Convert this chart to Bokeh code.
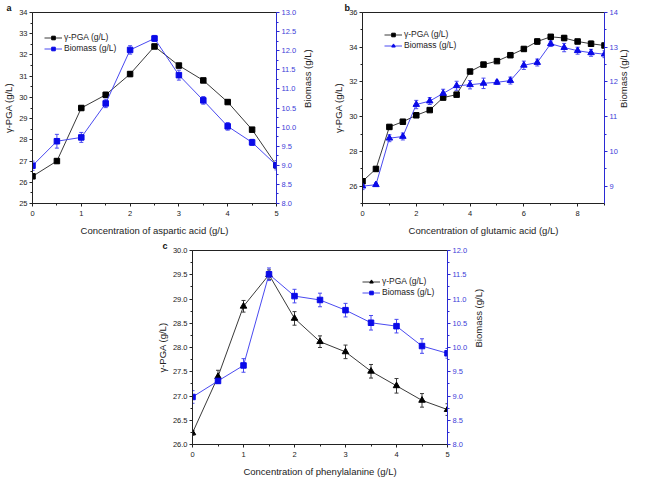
import math
from bokeh.plotting import figure
from bokeh.models import (Range1d, LinearAxis, FixedTicker, PrintfTickFormatter,
                          Whisker, ColumnDataSource, Legend, LegendItem,
                          TeeHead, Spacer)
from bokeh.core.properties import value
from bokeh.layouts import row, column
from bokeh.embed import file_html
from bokeh.resources import INLINE

FONT = "Liberation Sans"
BLACK_LINE = "#3a3a3a"
BLACK_MK = "#000000"
BLUE_LINE = "#4a4af0"
BLUE_MK = "#0a0ae8"
BLUE_AX = "#2a2ad4"
BLUE_TXT = "#4040d8"

# ---------------- Panel a: aspartic acid ----------------
a_conc = [0, 0.5, 1, 1.5, 2, 2.5, 3, 3.5, 4, 4.5, 5]
a_pga = [26.28, 27.0, 29.5, 30.12, 31.1, 32.4, 31.5, 30.8, 29.78, 28.48, 26.8]
a_pga_err = [0.10, 0.10, 0.10, 0.12, 0.12, 0.10, 0.10, 0.08, 0.10, 0.10, 0.10]
a_bio = [8.99, 9.63, 9.73, 10.62, 12.02, 12.32, 11.36, 10.70, 10.02, 9.60, 9.0]
a_bio_err = [0.12, 0.18, 0.13, 0.11, 0.11, 0.08, 0.13, 0.10, 0.10, 0.08, 0.12]

# ---------------- Panel b: glutamic acid ----------------
b_conc = [0, 0.5, 1, 1.5, 2, 2.5, 3, 3.5, 4, 4.5, 5, 5.5, 6, 6.5, 7, 7.5, 8, 8.5, 9]
b_pga = [26.28, 26.99, 29.41, 29.71, 30.08, 30.38, 31.1, 31.27, 32.6, 33.0,
         33.2, 33.54, 33.9, 34.33, 34.6, 34.53, 34.33, 34.2, 34.1]
b_pga_err = [0.15, 0.12, 0.12, 0.10, 0.12, 0.10, 0.12, 0.10, 0.10, 0.12,
             0.10, 0.12, 0.12, 0.15, 0.12, 0.15, 0.12, 0.15, 0.12]
b_bio = [9.0, 9.04, 10.38, 10.43, 11.35, 11.45, 11.67, 11.89, 11.92, 11.96,
         11.99, 12.04, 12.48, 12.56, 13.1, 12.99, 12.9, 12.84, 12.8]
b_bio_err = [0.10, 0.05, 0.10, 0.10, 0.12, 0.10, 0.12, 0.13, 0.12, 0.15,
             0.06, 0.10, 0.12, 0.10, 0.08, 0.12, 0.10, 0.10, 0.10]

# ---------------- Panel c: phenylalanine ----------------
c_conc = [0, 0.5, 1, 1.5, 2, 2.5, 3, 3.5, 4, 4.5, 5]
c_pga = [26.24, 27.4, 28.85, 29.5, 28.6, 28.12, 27.91, 27.51, 27.21, 26.91, 26.72]
c_pga_err = [0.05, 0.13, 0.12, 0.10, 0.14, 0.12, 0.14, 0.14, 0.15, 0.14, 0.12]
c_bio = [8.98, 9.31, 9.63, 11.51, 11.06, 10.98, 10.77, 10.51, 10.44, 10.03, 9.88]
c_bio_err = [0.13, 0.05, 0.14, 0.13, 0.14, 0.14, 0.14, 0.15, 0.14, 0.15, 0.10]

PGA_LABEL = "γ-PGA (g/L)"
BIO_LABEL = "Biomass (g/L)"


def style_axis(ax, color, label_color, fmt=None, tick_standoff=2, label_standoff=2):
    ax.axis_line_color = color
    ax.major_tick_line_color = color
    ax.minor_tick_line_color = color
    ax.major_label_text_color = label_color
    ax.major_label_text_font = FONT
    ax.major_label_text_font_size = "7.5px"
    ax.axis_label_text_font = FONT
    ax.axis_label_text_font_size = "9.5px"
    ax.axis_label_text_font_style = "normal"
    ax.axis_label_text_color = "#222222"
    ax.major_tick_in = 0
    ax.major_tick_out = 3
    ax.minor_tick_in = 0
    ax.minor_tick_out = 2
    ax.major_label_standoff = tick_standoff
    ax.axis_label_standoff = label_standoff
    if fmt:
        ax.formatter = PrintfTickFormatter(format=fmt)


def panel(conc, pga, pga_err, bio, bio_err, x_end, yl, yr, xt, xm, lt, lm, rt, rm,
          lfmt, rfmt, xlabel, letter, pga_mk, bio_mk, width, height, borders,
          leg_xy, rlab_standoff, letter_offset):
    bl, br, bt, bb = borders
    fh = height - bt - bb
    p = figure(width=width, height=height, x_range=Range1d(0, x_end),
               y_range=Range1d(*yl), output_backend="svg", toolbar_location=None,
               min_border_left=bl, min_border_right=br, min_border_top=bt,
               min_border_bottom=bb)
    # panel letter as a left-aligned title pulled over the left margin
    p.title.text = letter
    p.title.align = "left"
    p.title.offset = letter_offset
    p.title.standoff = 0
    p.title.text_font = FONT
    p.title.text_font_size = "9px"
    p.title.text_font_style = "bold"
    p.title.text_color = "#111111"

    p.extra_y_ranges = {"bio": Range1d(*yr)}
    p.xgrid.visible = False
    p.ygrid.visible = False
    p.outline_line_color = "#222222"
    p.outline_line_width = 1
    p.background_fill_color = "white"
    p.border_fill_color = "white"

    p.xaxis.ticker = FixedTicker(ticks=xt, minor_ticks=xm)
    p.yaxis.ticker = FixedTicker(ticks=lt, minor_ticks=lm)
    p.xaxis.axis_label = xlabel
    p.yaxis.axis_label = PGA_LABEL
    style_axis(p.xaxis[0], "#222222", "#222222", tick_standoff=4, label_standoff=6)
    style_axis(p.yaxis[0], "#222222", "#222222", lfmt)

    rax = LinearAxis(y_range_name="bio", ticker=FixedTicker(ticks=rt, minor_ticks=rm))
    style_axis(rax, BLUE_AX, BLUE_TXT, rfmt, label_standoff=rlab_standoff)
    rax.axis_label = BIO_LABEL
    try:
        rax.axis_label_orientation = math.pi / 2
    except Exception:
        pass
    p.add_layout(rax, "right")

    # gamma-PGA series
    s1 = ColumnDataSource(dict(x=conc, y=pga,
                               lo=[v - e for v, e in zip(pga, pga_err)],
                               hi=[v + e for v, e in zip(pga, pga_err)]))
    w1 = Whisker(source=s1, base="x", upper="hi", lower="lo", line_color=BLACK_LINE,
                 line_width=1,
                 upper_head=TeeHead(size=4, line_color=BLACK_LINE, line_width=1),
                 lower_head=TeeHead(size=4, line_color=BLACK_LINE, line_width=1))
    p.add_layout(w1)
    l1 = p.line("x", "y", source=s1, line_color=BLACK_LINE, line_width=1)
    m1 = p.scatter("x", "y", source=s1, marker=pga_mk,
                   size=5.5 if pga_mk == "square" else 6.5,
                   fill_color=BLACK_MK, line_color=BLACK_MK)

    # Biomass series
    s2 = ColumnDataSource(dict(x=conc, y=bio,
                               lo=[v - e for v, e in zip(bio, bio_err)],
                               hi=[v + e for v, e in zip(bio, bio_err)]))
    w2 = Whisker(source=s2, base="x", upper="hi", lower="lo", line_color=BLUE_LINE,
                 line_width=1, y_range_name="bio",
                 upper_head=TeeHead(size=4, line_color=BLUE_LINE, line_width=1),
                 lower_head=TeeHead(size=4, line_color=BLUE_LINE, line_width=1))
    p.add_layout(w2)
    l2 = p.line("x", "y", source=s2, line_color=BLUE_LINE, line_width=1, y_range_name="bio")
    m2 = p.scatter("x", "y", source=s2, marker=bio_mk,
                   size=5.5 if bio_mk == "square" else 6.5,
                   fill_color=BLUE_MK, line_color=BLUE_MK, y_range_name="bio")

    leg = Legend(items=[LegendItem(label=value(PGA_LABEL), renderers=[l1, m1]),
                        LegendItem(label=value(BIO_LABEL), renderers=[l2, m2])],
                 location=(leg_xy[0], fh - leg_xy[1]),
                 label_text_font=FONT, label_text_font_size="8.5px",
                 label_text_color="#222222",
                 glyph_width=18, glyph_height=9, label_height=9, label_standoff=2,
                 spacing=1, padding=0, margin=0, border_line_color=None,
                 background_fill_alpha=0)
    p.add_layout(leg)
    return p


pa = panel(a_conc, a_pga, a_pga_err, a_bio, a_bio_err, 5, (25, 34), (8, 13),
           [0, 1, 2, 3, 4, 5], [0.5, 1.5, 2.5, 3.5, 4.5],
           list(range(25, 35)), [25.5 + i for i in range(9)],
           [8 + 0.5 * i for i in range(11)], [8.25 + 0.5 * i for i in range(10)],
           None, "%.1f", "Concentration of aspartic acid (g/L)", "a",
           "square", "square", 324, 238, (27, 48, 12, 32), (12, 44), 8, -26)

pb = panel(b_conc, b_pga, b_pga_err, b_bio, b_bio_err, 9, (25, 36), (8.5, 14),
           [0, 2, 4, 6, 8], [1, 3, 5, 7, 9],
           [26, 28, 30, 32, 34, 36], [25, 27, 29, 31, 33, 35],
           [9, 10, 11, 12, 13, 14], [9.5, 10.5, 11.5, 12.5, 13.5],
           None, None, "Concentration of glutamic acid (g/L)", "b",
           "square", "triangle", 320, 238, (38, 40, 12, 32), (22, 41), 3, -18)

pc = panel(c_conc, c_pga, c_pga_err, c_bio, c_bio_err, 5, (26, 30), (8, 12),
           [0, 1, 2, 3, 4, 5], [0.5, 1.5, 2.5, 3.5, 4.5],
           [26 + 0.5 * i for i in range(9)], [26.25 + 0.5 * i for i in range(8)],
           [8 + 0.5 * i for i in range(9)], [8.25 + 0.5 * i for i in range(8)],
           "%.1f", "%.1f", "Concentration of phenylalanine (g/L)", "c",
           "triangle", "square", 347, 241, (42, 50, 12, 32), (170, 50), 8, -30)

layout = column(row(pa, pb), row(Spacer(width=150, height=241), pc))

open("out.html", "w").write(file_html(layout, INLINE))
